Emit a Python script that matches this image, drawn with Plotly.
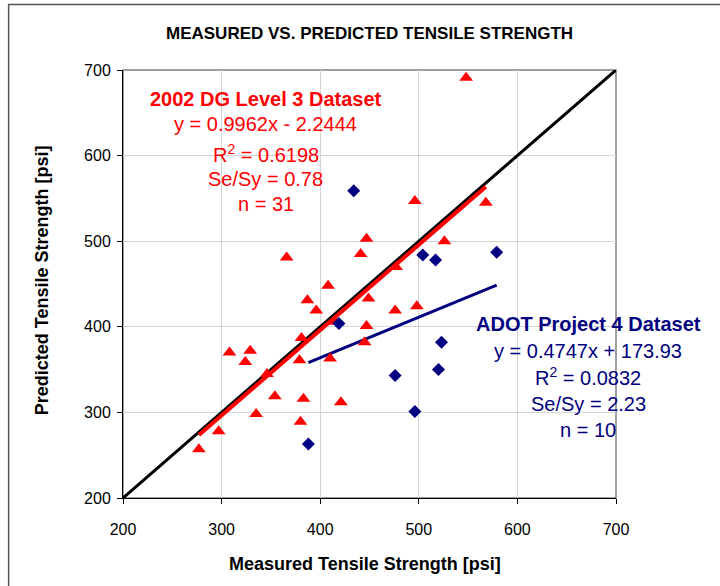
import plotly.graph_objects as go

# ---- data ----
dg_measured = [277, 297, 308, 329, 324, 335, 346, 354, 380, 383, 379, 381, 387, 396, 408,
               415, 410, 421, 445, 447, 449, 476, 498, 366, 441, 447, 477, 496, 548, 568, 526]
dg_predicted = [257, 278, 370, 372, 359, 298, 345, 319, 289, 316, 361, 387, 431, 419, 448,
                406, 363, 312, 382, 401, 433, 419, 424, 481, 485, 503, 470, 547, 691, 545, 500]

adot_measured = [434, 419, 388, 476, 496, 504, 517, 579, 523, 520]
adot_predicted = [559, 404, 263, 343, 301, 484, 478, 487, 382, 350]

dg_slope, dg_intercept = 0.9962, -2.2444
adot_slope, adot_intercept = 0.4747, 173.93

equality = [200, 700]
axis_ticks = [200, 300, 400, 500, 600, 700]

dg_lines = ["<b>2002 DG Level 3 Dataset</b>", "y = 0.9962x - 2.2444",
            "R<sup>2</sup> = 0.6198", "Se/Sy = 0.78", "n = 31"]
adot_lines = ["<b>ADOT Project 4 Dataset</b>", "y = 0.4747x + 173.93",
              "R<sup>2</sup> = 0.0832", "Se/Sy = 2.23", "n = 10"]

RED = "#FF0000"
NAVY = "#000080"
FONT = "Liberation Sans, Arial, sans-serif"

fig = go.Figure()

# 1:1 line
fig.add_trace(go.Scatter(x=equality, y=equality, mode="lines",
                         line=dict(color="black", width=3), hoverinfo="skip"))

# trend lines
dg_x = [min(dg_measured), max(dg_measured)]
fig.add_trace(go.Scatter(x=dg_x, y=[dg_slope * v + dg_intercept for v in dg_x], mode="lines",
                         line=dict(color=RED, width=4)))
ad_x = [min(adot_measured), max(adot_measured)]
fig.add_trace(go.Scatter(x=ad_x, y=[adot_slope * v + adot_intercept for v in ad_x], mode="lines",
                         line=dict(color=NAVY, width=3)))

# points
fig.add_trace(go.Scatter(x=dg_measured, y=dg_predicted, mode="markers",
                         marker=dict(symbol="triangle-up", size=12, color=RED, line=dict(width=0))))
fig.add_trace(go.Scatter(x=adot_measured, y=adot_predicted, mode="markers",
                         marker=dict(symbol="diamond", size=10, color=NAVY, line=dict(width=0))))

axis_common = dict(range=[200, 700], tickvals=axis_ticks, showgrid=True, gridcolor="#D4D4D4",
                   gridwidth=1, zeroline=False, showline=True, linecolor="black", linewidth=1,
                   ticks="outside", ticklen=5, tickcolor="black",
                   tickfont=dict(family=FONT, size=16, color="black"))

fig.update_xaxes(**axis_common, ticklabelstandoff=12)
fig.update_yaxes(**axis_common, ticklabelstandoff=3)

annotations = []
# title and axis titles
annotations.append(dict(text="<b>MEASURED VS. PREDICTED TENSILE STRENGTH</b>", xref="paper", yref="paper",
                        x=0.501, y=1.085, showarrow=False, xanchor="center", yanchor="middle",
                        font=dict(family=FONT, size=17, color="black")))
annotations.append(dict(text="<b>Measured Tensile Strength [psi]</b>", xref="paper", yref="paper",
                        x=0.491, y=-0.155, showarrow=False, xanchor="center", yanchor="middle",
                        font=dict(family=FONT, size=18, color="black")))
annotations.append(dict(text="<b>Predicted Tensile Strength [psi]</b>", xref="paper", yref="paper",
                        x=-0.165, y=0.508, showarrow=False, xanchor="center", yanchor="middle",
                        textangle=-90, font=dict(family=FONT, size=18, color="black")))

dg_y = [666, 636.6, 602, 572.8, 543.6]
for t, yy in zip(dg_lines, dg_y):
    annotations.append(dict(text=t, x=345, y=yy, xref="x", yref="y", showarrow=False,
                            xanchor="center", yanchor="middle",
                            font=dict(family=FONT, size=20, color=RED)))
ad_y = [403, 372.3, 341.6, 310.1, 278.9]
for t, yy in zip(adot_lines, ad_y):
    annotations.append(dict(text=t, x=672, y=yy, xref="x", yref="y", showarrow=False,
                            xanchor="center", yanchor="middle",
                            font=dict(family=FONT, size=20, color=NAVY)))

shapes = [
    # plot-area border (grey)
    dict(type="rect", xref="paper", yref="paper", x0=0, y0=0, x1=1, y1=1,
         line=dict(color="#808080", width=1.5), layer="below"),
    # chart-area frame
    dict(type="rect", xref="paper", yref="paper", x0=-0.232, y0=-0.3, x1=1.4, y1=1.153,
         line=dict(color="#555555", width=1.5)),
]

fig.update_layout(
    width=720, height=586,
    margin=dict(l=123, r=104, t=70, b=88),
    plot_bgcolor="white", paper_bgcolor="white",
    showlegend=False,
    annotations=annotations,
    shapes=shapes,
    font=dict(family=FONT),
)

fig.write_html("out.html")
